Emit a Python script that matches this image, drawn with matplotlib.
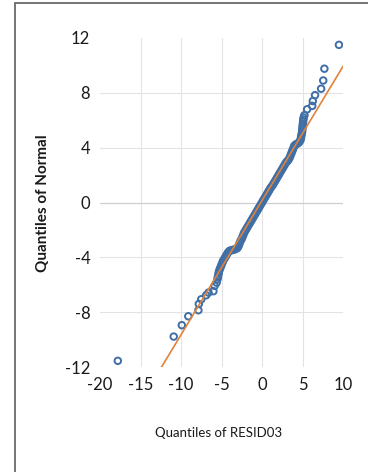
import matplotlib
matplotlib.use("Agg")
import matplotlib.pyplot as plt
from matplotlib.patches import Rectangle

# sorted residual quantiles (x) and normal quantiles (y)
resid = [-17.8, -10.9, -9.9, -9.1, -7.85, -7.8, -7.5, -6.9, -6.6, -6.0, -5.85, -5.6, -5.5,
         -5.45, -5.4, -5.35, -5.3, -5.2, -5.1, -5.0, -4.9, -4.8, -4.65, -4.5, -4.35, -4.2,
         -4.05, -3.9, -3.7, -3.5, -3.3, -3.1, -2.95, -2.85, -2.75, -2.65, -2.5, -2.4, -2.3,
         -2.2, -2.05, -1.9, -1.75, -1.6, -1.45, -1.3, -1.15, -1.0, -0.85, -0.7, -0.55, -0.4,
         -0.25, -0.1, 0.05, 0.2, 0.35, 0.5, 0.65, 0.8, 0.95, 1.1, 1.3, 1.45, 1.6, 1.75, 1.9,
         2.05, 2.2, 2.35, 2.5, 2.65, 2.8, 2.95, 3.1, 3.25, 3.4, 3.5, 3.6, 3.7, 3.8, 3.9, 4.0,
         4.2, 4.4, 4.6, 4.75, 4.8, 4.85, 4.9, 4.95, 4.97, 5.0, 5.02, 5.05, 5.08, 5.1, 5.15,
         5.24, 5.57, 6.2, 6.27, 6.55, 7.3, 7.56, 7.7, 9.5]
normq = [-11.55, -9.78, -8.95, -8.3, -7.86, -7.4, -7.06, -6.77, -6.57, -6.47, -6.08, -5.85, -5.6,
         -5.45, -5.3, -5.15, -5.0, -4.85, -4.7, -4.55, -4.4, -4.25, -4.1, -3.95, -3.8, -3.65,
         -3.55, -3.5, -3.47, -3.45, -3.4, -3.35, -3.25, -3.1, -2.95, -2.8, -2.65, -2.5, -2.35,
         -2.2, -2.05, -1.9, -1.75, -1.6, -1.45, -1.3, -1.15, -1.0, -0.85, -0.7, -0.55, -0.4,
         -0.25, -0.1, 0.05, 0.2, 0.35, 0.5, 0.65, 0.8, 0.95, 1.1, 1.25, 1.4, 1.55, 1.7, 1.85,
         2.0, 2.15, 2.3, 2.45, 2.6, 2.75, 2.9, 3.0, 3.1, 3.25, 3.4, 3.55, 3.7, 3.85, 4.0, 4.15,
         4.25, 4.3, 4.4, 4.55, 4.7, 4.85, 5.0, 5.15, 5.3, 5.45, 5.6, 5.75, 5.9, 6.05, 6.2,
         6.37, 6.8, 7.05, 7.4, 7.83, 8.3, 8.9, 9.76, 11.5]

# fitted reference line end points
line_x = [-12.4, 10]
line_y = [-12.0, 9.93]

x_ticks = [-20, -15, -10, -5, 0, 5, 10]
y_ticks = [-12, -8, -4, 0, 4, 8, 12]

plt.rcParams['font.family'] = ['Lato', 'DejaVu Sans']

fig = plt.figure(figsize=(3.68, 4.72), dpi=100)
fig.patches.append(Rectangle((15 / 368, -0.1), 1.2, 0.1 + 469 / 472, transform=fig.transFigure,
                             fill=False, edgecolor='#6a6a6a', linewidth=1.3))

ax = fig.add_axes([100 / 368, 105 / 472, 243 / 368, 329 / 472])
ax.set_xlim(-20, 10)
ax.set_ylim(-12, 12)

for gx in [-15, -10, -5, 0, 5]:
    ax.axvline(gx, color='#e3e3e3', lw=0.8, zorder=0)
for gy in [-8, -4, 4, 8]:
    ax.axhline(gy, color='#e3e3e3', lw=0.8, zorder=0)
ax.axhline(0, color='#cfcfcf', lw=0.9, zorder=0)

ax.scatter(resid, normq, s=22, facecolors='none', edgecolors='#3f6fa6', linewidths=1.4, zorder=2)
ax.plot(line_x, line_y, color='#e0823a', lw=1.2, zorder=3)

for s in ax.spines.values():
    s.set_visible(False)
ax.set_xticks(x_ticks)
ax.set_yticks(y_ticks)
ax.set_xticklabels([str(v) for v in x_ticks])
ax.set_yticklabels([str(v) for v in y_ticks])
ax.tick_params(length=0, labelsize=12, colors='#1a1a1a')
ax.tick_params(axis='x', pad=7)
ax.tick_params(axis='y', pad=7)

fig.text(43 / 368, 1 - 203 / 472, 'Quantiles of Normal', rotation=90, ha='center', va='center',
         fontsize=11, fontweight='bold', color='#1a1a1a')
fig.text(219 / 368, 1 - 433 / 472, 'Quantiles of RESID03', ha='center', va='center',
         fontsize=9.5, color='#1a1a1a')

fig.savefig('out.png', dpi=100)
